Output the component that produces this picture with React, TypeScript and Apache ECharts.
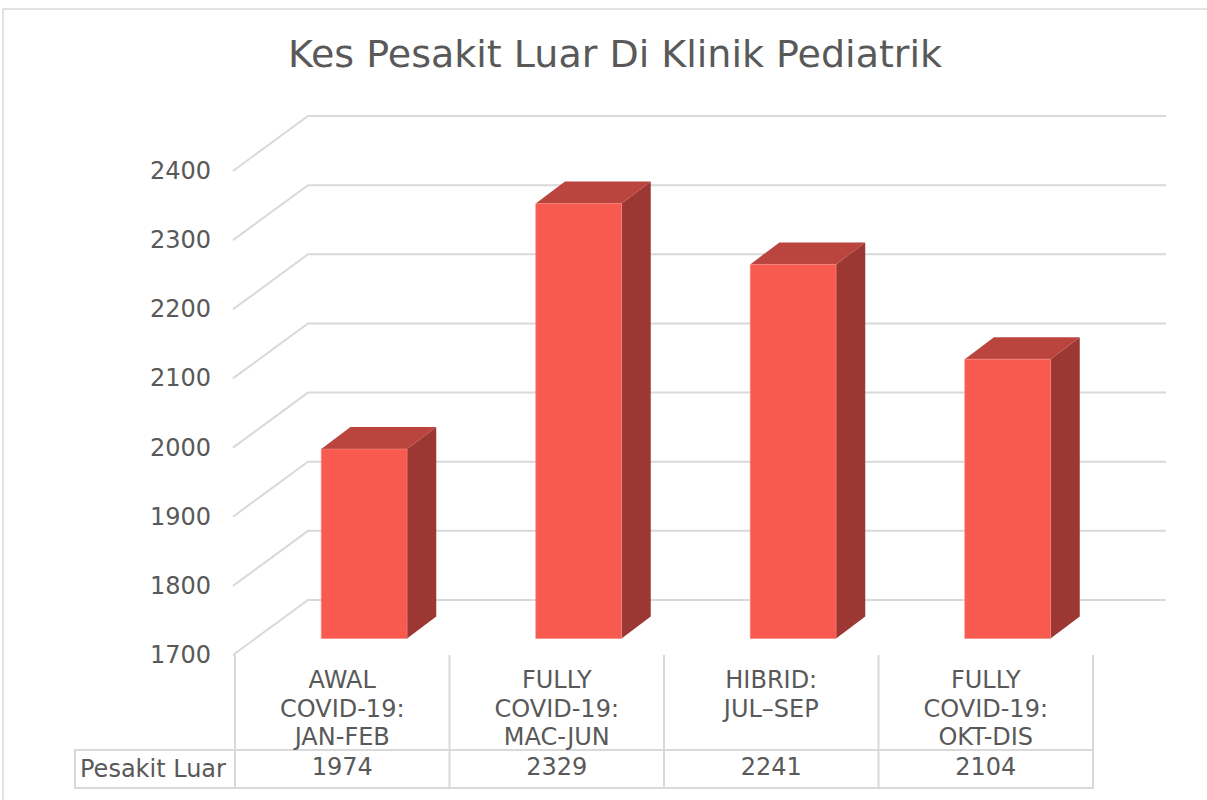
import React, { useEffect, useRef } from "react";
import * as echarts from "echarts";

// ---- data ----
const chartTitle = "Kes Pesakit Luar Di Klinik Pediatrik";
const categories = [
  "AWAL\nCOVID-19:\nJAN-FEB",
  "FULLY\nCOVID-19:\nMAC-JUN",
  "HIBRID:\nJUL–SEP",
  "FULLY\nCOVID-19:\nOKT-DIS",
];
const seriesName = "Pesakit Luar";
const values = [1974, 2329, 2241, 2104];
const yMin = 1700;
const yMax = 2400;
const yStep = 100;
const yTicks = [1700, 1800, 1900, 2000, 2100, 2200, 2300, 2400];

// ---- layout / style ----
const W = 1207;
const H = 800;
const GRID_LEFT = 235;
const GRID_TOP = 171;
const GRID_W = 858;
const GRID_H = 484;
const DX = 73; // depth offset of the 3D box
const DY = 55;
const BAR_FRONT = 0.3; // depth fraction where bar starts
const BAR_DEPTH = 0.4; // depth fraction of bar
const BAR_WIDTH = 0.4; // fraction of category width
const TABLE_LEFT = 75;
const ROW_TOP = 750;
const ROW_BOTTOM = 788;
const FONT = "DejaVu Sans";
const TEXT = "#595959";
const LINE = "#d9d9d9";
const FRONT_C = "#f85a50";
const TOP_C = "#ba443e";
const SIDE_C = "#9c3733";

export default function App() {
  const ref = useRef<HTMLDivElement>(null);
  useEffect(() => {
    if (!ref.current) return;
    const chart = echarts.init(ref.current, undefined, { renderer: "svg" });
    const colW = GRID_W / categories.length;
    const gridBottom = GRID_TOP + GRID_H;

    const graphics: any[] = [
      {
        type: "rect",
        shape: { x: 3, y: 9, width: W + 50, height: H + 50 },
        style: { fill: "none", stroke: LINE, lineWidth: 1.5 },
        silent: true,
        z: -10,
      },
    ];
    // table vertical lines
    for (let k = 0; k <= categories.length; k++) {
      const x = GRID_LEFT + k * colW;
      graphics.push({
        type: "line",
        shape: { x1: x, y1: gridBottom, x2: x, y2: ROW_BOTTOM },
        style: { stroke: LINE, lineWidth: 2 },
        silent: true,
      });
    }
    graphics.push({
      type: "rect",
      shape: {
        x: TABLE_LEFT,
        y: ROW_TOP,
        width: GRID_LEFT + GRID_W - TABLE_LEFT,
        height: ROW_BOTTOM - ROW_TOP,
      },
      style: { fill: "none", stroke: LINE, lineWidth: 2 },
      silent: true,
    });
    graphics.push({
      type: "text",
      x: TABLE_LEFT + 5,
      y: (ROW_TOP + ROW_BOTTOM) / 2,
      style: {
        text: seriesName,
        fill: TEXT,
        font: `24px "${FONT}"`,
        textAlign: "left",
        textVerticalAlign: "middle",
      },
    });

    chart.setOption({
      animation: false,
      title: {
        text: chartTitle,
        left: 615,
        top: 35,
        padding: 0,
        textAlign: "center",
        textStyle: {
          color: TEXT,
          fontSize: 38,
          fontWeight: "normal",
          fontFamily: FONT,
        },
      },
      grid: {
        left: GRID_LEFT,
        top: GRID_TOP,
        width: GRID_W,
        height: GRID_H,
        containLabel: false,
      },
      xAxis: [
        {
          type: "category",
          data: categories,
          axisLine: { show: false },
          axisTick: { show: false },
          splitLine: { show: false },
          axisLabel: {
            interval: 0,
            margin: 11,
            color: TEXT,
            fontSize: 24,
            lineHeight: 28.5,
            fontFamily: FONT,
            align: "center",
          },
        },
        {
          type: "category",
          position: "bottom",
          offset: 95,
          data: values.map((v) => String(v)),
          axisLine: { show: false },
          axisTick: { show: false },
          splitLine: { show: false },
          axisLabel: {
            interval: 0,
            margin: 5,
            color: TEXT,
            fontSize: 24,
            fontFamily: FONT,
          },
        },
      ],
      yAxis: {
        type: "value",
        min: yMin,
        max: yMax,
        interval: yStep,
        axisLine: { show: false },
        axisTick: { show: false },
        splitLine: { show: false },
        axisLabel: {
          margin: 24,
          color: TEXT,
          fontSize: 24,
          fontFamily: FONT,
          formatter: (v: number) => String(v),
        },
      },
      graphic: graphics,
      series: [
        {
          type: "custom",
          name: "walls",
          silent: true,
          xAxisIndex: 0,
          data: yTicks.map((t) => [0, t]),
          encode: { x: 0, y: 1 },
          z: 1,
          renderItem: (params: any, api: any) => {
            const p = api.coord([0, api.value(1)]);
            const cs = params.coordSys;
            const y = p[1];
            return {
              type: "polyline",
              shape: {
                points: [
                  [cs.x - 2, y],
                  [cs.x + DX, y - DY],
                  [cs.x + cs.width + DX, y - DY],
                ],
              },
              style: { stroke: LINE, lineWidth: 2, fill: "none" },
            };
          },
        },
        {
          type: "custom",
          name: seriesName,
          xAxisIndex: 0,
          data: values.map((v, i) => [i, v]),
          encode: { x: 0, y: 1 },
          z: 2,
          renderItem: (params: any, api: any) => {
            const i = api.value(0);
            const v = api.value(1);
            const base = api.coord([i, yMin]);
            const top = api.coord([i, v]);
            const cw = api.size([1, 0])[0];
            const bw = cw * BAR_WIDTH;
            const ox = DX * BAR_FRONT;
            const oy = DY * BAR_FRONT;
            const bx = DX * BAR_DEPTH;
            const by = DY * BAR_DEPTH;
            const xl = base[0] - bw / 2 + ox;
            const xr = xl + bw;
            const yb = base[1] - oy;
            const yt = top[1] - oy;
            return {
              type: "group",
              children: [
                {
                  type: "polygon",
                  shape: {
                    points: [
                      [xr, yt],
                      [xr + bx, yt - by],
                      [xr + bx, yb - by],
                      [xr, yb],
                    ],
                  },
                  style: { fill: SIDE_C },
                },
                {
                  type: "polygon",
                  shape: {
                    points: [
                      [xl, yt],
                      [xr, yt],
                      [xr + bx, yt - by],
                      [xl + bx, yt - by],
                    ],
                  },
                  style: { fill: TOP_C },
                },
                {
                  type: "rect",
                  shape: { x: xl, y: yt, width: bw, height: yb - yt },
                  style: { fill: FRONT_C, stroke: "#f4867e", lineWidth: 0.6 },
                },
              ],
            };
          },
        },
      ],
    });
    return () => chart.dispose();
  }, []);
  return (
    <div
      ref={ref}
      style={{ position: "fixed", left: 0, top: 0, width: W, height: H, background: "#fff" }}
    />
  );
}
